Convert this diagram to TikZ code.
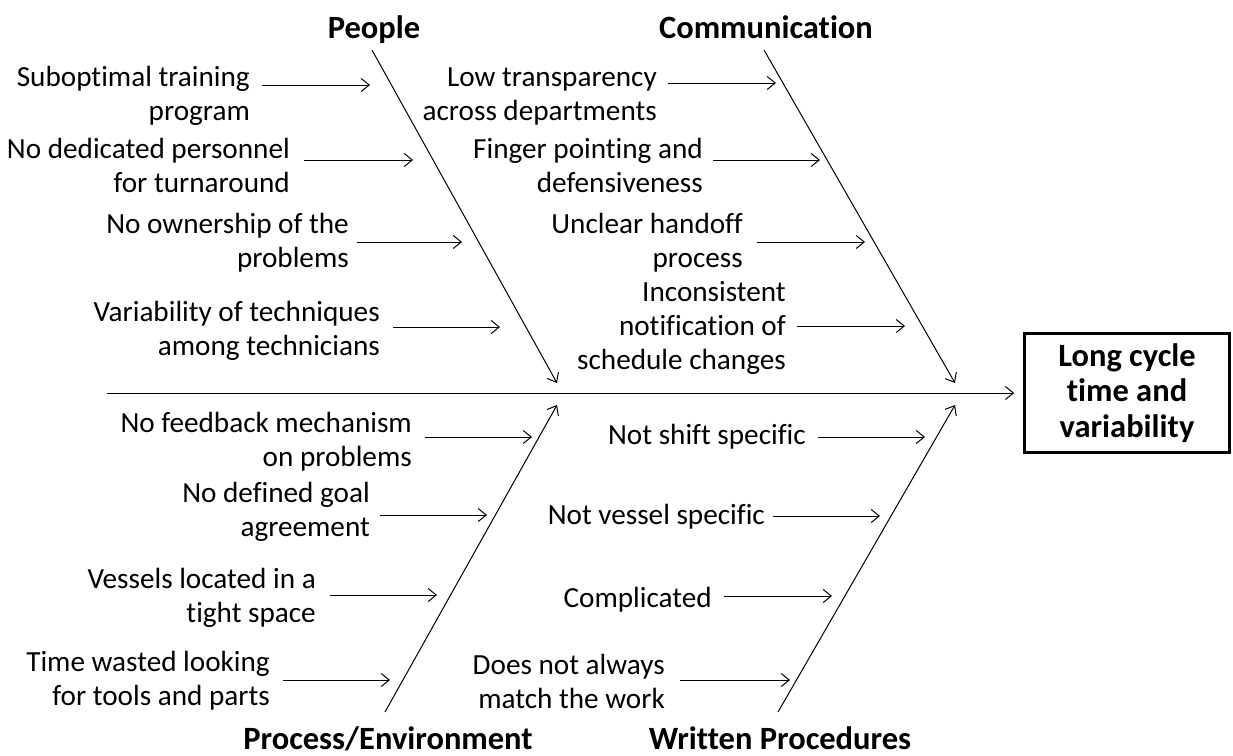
\documentclass[tikz,border=0pt]{standalone}
\usepackage{fontspec}
\setmainfont{Carlito}[Ligatures=NoCommon]
\usetikzlibrary{arrows.meta,positioning,calc}

\newcommand{\causesize}{\fontsize{29.2}{34}\selectfont}
\newcommand{\headsize}{\fontsize{32.5}{35.5}\selectfont\bfseries}

\begin{document}
\begin{tikzpicture}[
    x=1pt,y=-1pt,
    >={Straight Barb[length=8pt,width=13pt]},
    cause/.style={align=right,anchor=east,inner sep=0pt,font=\causesize},
    category/.style={inner sep=0pt,anchor=base,font=\headsize},
    causearrow/.style={->,line width=1pt},
    bone/.style={->,line width=1pt},
    effect/.style={draw,line width=2.7pt,align=center,font=\headsize,
      minimum width=205pt,minimum height=119pt}]
  \useasboundingbox (0,0) rectangle (1233,755);

  % head of the fish and the spine
  \node[effect] (effect) at (1127,393) {Long cycle\\time and\\variability};
  \coordinate (tail) at (107,393);
  \draw[bone,shorten >=9pt] (tail) -- (effect.west);

  % category labels
  \node[category] (people) at (374,38) {People};
  \node[category] (comm) at (766,38) {Communication};
  \node[category] (procenv) at (388,749) {Process/Environment};
  \node[category] (written) at (780,749) {Written Procedures};

  % bones
  \coordinate (ptop) at (372,50);   \coordinate (pend) at (557,383);
  \coordinate (ctop) at (764,50);   \coordinate (cend) at (955,383);
  \coordinate (ebot) at (385,712);  \coordinate (eend) at (557,405);
  \coordinate (wbot) at (778,712);  \coordinate (wend) at (955,405);
  \draw[bone] (ptop) -- (pend);
  \draw[bone] (ctop) -- (cend);
  \draw[bone] (ebot) -- (eend);
  \draw[bone] (wbot) -- (wend);

  % People
  \node[cause] (p1) at (250,96) {Suboptimal training\\program};
  \node[cause] (p2) at (290,165) {No dedicated personnel\\for turnaround};
  \node[cause] (p3) at (349,243) {No ownership of the\\problems};
  \node[cause] (p4) at (380,331) {Variability of techniques\\among technicians};
  \coordinate (ph1) at (370,85);
  \coordinate (ph2) at (413,160);
  \coordinate (ph3) at (462,242);
  \coordinate (ph4) at (500,327);
  \draw[causearrow] ([xshift=12pt]p1.east |- ph1) -- (ph1);
  \draw[causearrow] ([xshift=14pt]p2.east |- ph2) -- (ph2);
  \draw[causearrow] ([xshift=8pt]p3.east |- ph3) -- (ph3);
  \draw[causearrow] ([xshift=13pt]p4.east |- ph4) -- (ph4);

  % Communication
  \node[cause] (c1) at (657,96) {Low transparency\\across departments};
  \node[cause] (c2) at (703,165) {Finger pointing and\\defensiveness};
  \node[cause] (c3) at (743,243) {Unclear handoff\\process};
  \node[cause] (c4) at (786,328) {Inconsistent\\notification of\\schedule changes};
  \coordinate (ch1) at (776,83);
  \coordinate (ch2) at (820,160);
  \coordinate (ch3) at (865,242);
  \coordinate (ch4) at (905,326);
  \draw[causearrow] ([xshift=11pt]c1.east |- ch1) -- (ch1);
  \draw[causearrow] ([xshift=10pt]c2.east |- ch2) -- (ch2);
  \draw[causearrow] ([xshift=14pt]c3.east |- ch3) -- (ch3);
  \draw[causearrow] ([xshift=11pt]c4.east |- ch4) -- (ch4);

  % Process/Environment
  \node[cause] (e1) at (412,442) {No feedback mechanism\\on problems};
  \node[cause] (e2) at (370,512) {No defined goal\\agreement};
  \node[cause] (e3) at (316,598) {Vessels located in a\\tight space};
  \node[cause] (e4) at (270,681) {Time wasted looking\\for tools and parts};
  \coordinate (eh1) at (532,437);
  \coordinate (eh2) at (487,515);
  \coordinate (eh3) at (437,595);
  \coordinate (eh4) at (390,680);
  \draw[causearrow] ([xshift=13pt]e1.east |- eh1) -- (eh1);
  \draw[causearrow] ([xshift=10pt]e2.east |- eh2) -- (eh2);
  \draw[causearrow] ([xshift=14pt]e3.east |- eh3) -- (eh3);
  \draw[causearrow] ([xshift=13pt]e4.east |- eh4) -- (eh4);

  % Written Procedures
  \node[cause] (w1) at (806,437) {Not shift specific};
  \node[cause] (w2) at (765,517) {Not vessel specific};
  \node[cause] (w3) at (712,600) {Complicated};
  \node[cause] (w4) at (665,681) {Does not always\\match the work};
  \coordinate (wh1) at (925,437);
  \coordinate (wh2) at (880,516);
  \coordinate (wh3) at (832,596);
  \coordinate (wh4) at (790,680);
  \draw[causearrow] ([xshift=12pt]w1.east |- wh1) -- (wh1);
  \draw[causearrow] ([xshift=8pt]w2.east |- wh2) -- (wh2);
  \draw[causearrow] ([xshift=12pt]w3.east |- wh3) -- (wh3);
  \draw[causearrow] ([xshift=15pt]w4.east |- wh4) -- (wh4);
\end{tikzpicture}
\end{document}
